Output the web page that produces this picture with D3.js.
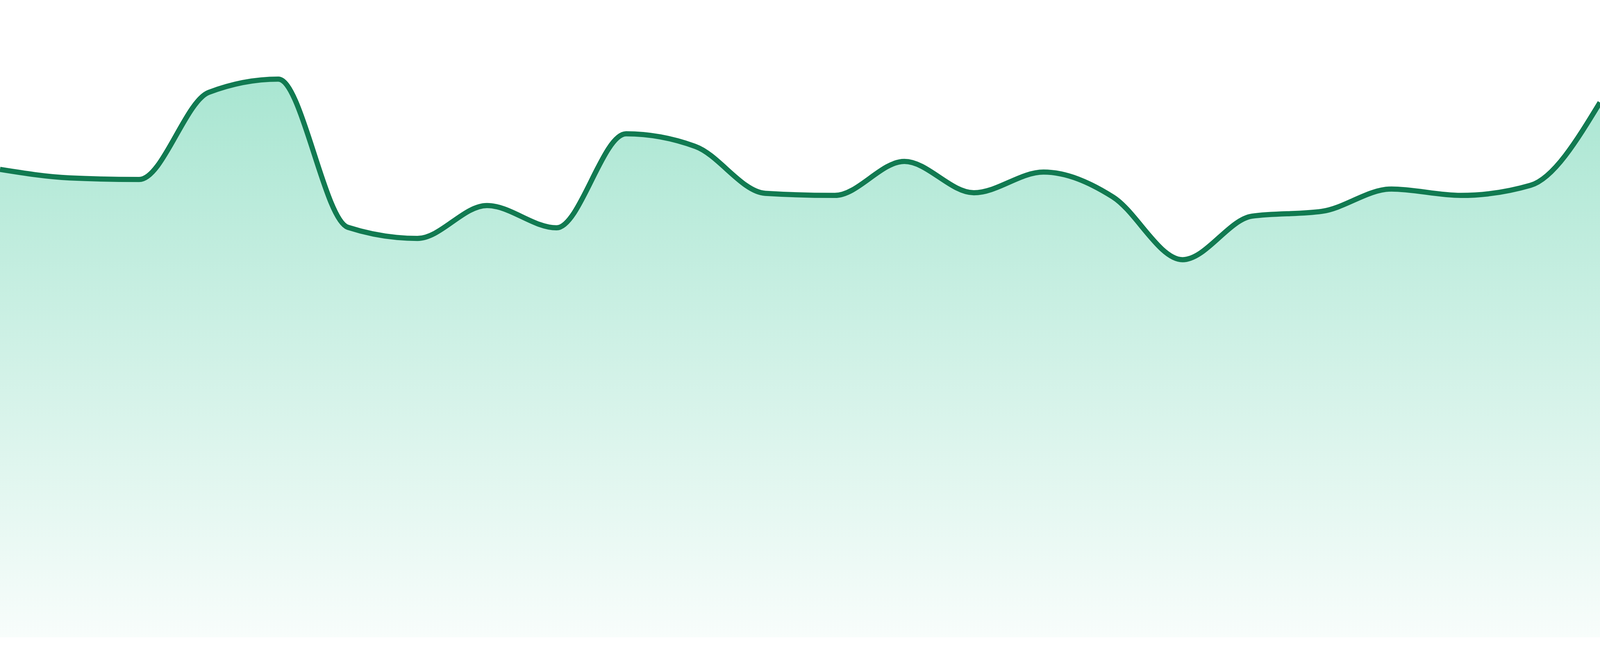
<!DOCTYPE html>
<html lang="en">
<head>
  <meta charset="utf-8">
  <script src="https://d3js.org/d3.v7.min.js"></script>
  <title>Area Chart</title>
  <style>
    html, body { margin: 0; padding: 0; background: #fff; overflow: hidden; }
    svg { display: block; width: 100vw; height: 100vh; }
  </style>
</head>
<body>
  <div id="my_dataviz"></div>

<script>

  // categories (one per point, evenly spaced)
  const steps = [1, 2, 3, 4, 5, 6, 7, 8, 9, 10, 11, 12,
                 13, 14, 15, 16, 17, 18, 19, 20, 21, 22, 23, 24];

  // series values
  const values = [88.1, 86.5, 86.2, 102.6, 105.1, 77.2, 75.1, 81.3,
                  77.1, 94.8, 92.4, 83.6, 83.2, 89.6, 83.7, 87.6,
                  82.9, 71.1, 79.3, 80.2, 84.4, 83.2, 85.1, 100.7];

  // value domain of the hidden y axis
  const yDomain = [0, 120];

  const data = steps.map((s, i) => ({ step: s, value: values[i] }));

  // svg takes the whole window, then we read back its real size
  const root = d3.select("#my_dataviz").append("svg");
  const box = root.node().getBoundingClientRect();
  const W = box.width, H = box.height;
  const kx = W / 4800, ky = H / 1680;   // sizes below are for a 4800x1680 frame

  const margin = { top: 0, right: 0, bottom: 48 * ky, left: 0 },
    width = W - margin.left - margin.right,
    height = H - margin.top - margin.bottom;

  const svg = root
    .attr("width", W)
    .attr("height", H)
    .append("g")
    .attr("transform", `translate(${margin.left},${margin.top})`);

  // X scale
  const x = d3.scalePoint()
    .domain(steps)
    .range([0, width]);

  // Y scale
  const y = d3.scaleLinear()
    .domain(yDomain)
    .range([height, 0]);

  // gradient for the fill
  const grad = svg.append("defs")
    .append("linearGradient")
    .attr("id", "areaFill")
    .attr("x1", 0).attr("y1", 0)
    .attr("x2", 0).attr("y2", 1);
  grad.append("stop")
    .attr("offset", "0%")
    .attr("stop-color", "#10b981")
    .attr("stop-opacity", 0.36);
  grad.append("stop")
    .attr("offset", "100%")
    .attr("stop-color", "#10b981")
    .attr("stop-opacity", 0.03);

  // Area
  svg.append("path")
    .datum(data)
    .attr("fill", "url(#areaFill)")
    .attr("d", d3.area()
      .curve(d3.curveMonotoneX)
      .x(d => x(d.step))
      .y0(y(0))
      .y1(d => y(d.value)));

  // Line
  svg.append("path")
    .datum(data)
    .attr("fill", "none")
    .attr("stroke", "#117a51")
    .attr("stroke-width", 15.5 * Math.min(kx, ky))
    .attr("stroke-linejoin", "round")
    .attr("d", d3.line()
      .curve(d3.curveMonotoneX)
      .x(d => x(d.step))
      .y(d => y(d.value)));

</script>
</body>
</html>
